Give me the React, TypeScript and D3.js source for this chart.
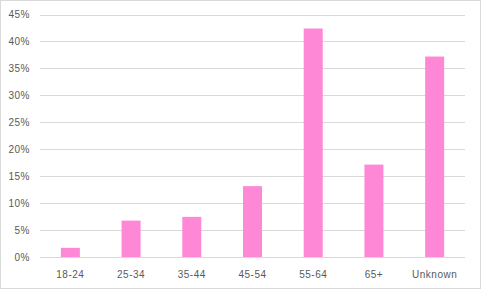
import React from "react";
import * as d3 from "d3";

const categories = ["18-24", "25-34", "35-44", "45-54", "55-64", "65+", "Unknown"];
const values = [0.017, 0.0675, 0.0745, 0.1315, 0.424, 0.1715, 0.372];
const yTicks = [0, 0.05, 0.1, 0.15, 0.2, 0.25, 0.3, 0.35, 0.4, 0.45];

const W = 481;
const H = 289;
const left = 40;
const right = 465;
const top = 14.5;
const bottom = 257;

export default function App() {
  const x = d3
    .scaleBand<string>()
    .domain(categories)
    .range([left, right])
    .paddingInner(0.687)
    .paddingOuter(0.3435);
  const y = d3.scaleLinear().domain([0, 0.45]).range([bottom, top]);
  const fmt = d3.format(".0%");
  const font = "'Liberation Sans', Arial, sans-serif";
  return (
    <svg
      width={W}
      height={H}
      style={{ position: "absolute", left: 0, top: 0, background: "#fff" }}
    >
      <rect x={0.5} y={0.5} width={W - 1} height={H - 1} fill="#fff" stroke="#d9d9d9" />
      {yTicks.map((t) => (
        <g key={t}>
          <line
            x1={left}
            x2={right}
            y1={Math.round(y(t)) + 0.5}
            y2={Math.round(y(t)) + 0.5}
            stroke="#d9d9d9"
            strokeWidth={1}
          />
          <text
            x={30}
            y={y(t)}
            dy="0.35em"
            textAnchor="end"
            fontFamily={font}
            fontSize={10}
            letterSpacing={0.5}
            fill="#595959"
          >
            {fmt(t)}
          </text>
        </g>
      ))}
      {categories.map((c, i) => (
        <rect
          key={c}
          x={x(c)}
          y={y(values[i])}
          width={x.bandwidth()}
          height={bottom - y(values[i])}
          fill="#ff88d6"
        />
      ))}
      {categories.map((c) => (
        <text
          key={c}
          x={(x(c) as number) + x.bandwidth() / 2}
          y={274}
          dy="0.35em"
          textAnchor="middle"
          fontFamily={font}
          fontSize={10}
          letterSpacing={0.5}
          fill="#595959"
        >
          {c}
        </text>
      ))}
    </svg>
  );
}
